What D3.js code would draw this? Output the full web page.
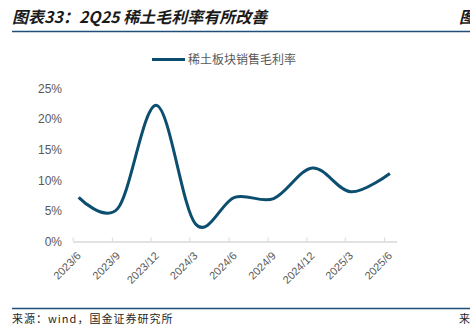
<!DOCTYPE html>
<html>
<head>
<meta charset="utf-8">
<script src="https://cdn.jsdelivr.net/npm/d3@7"></script>
<style>
  html, body { margin: 0; padding: 0; background: #fff; }
  svg { display: block; }
</style>
</head>
<body>
<div id="chart"></div>
<script>
// ---- data ----
const categories = ["2023/6", "2023/9", "2023/12", "2024/3", "2024/6", "2024/9", "2024/12", "2025/3", "2025/6"];
const values = [7.2, 5.4, 22.2, 2.9, 7.2, 7.0, 12.0, 8.1, 11.1]; // %
const yTicks = [0, 5, 10, 15, 20, 25];
const seriesName = "稀土板块销售毛利率";
const title = "图表33：2Q25 稀土毛利率有所改善";
const source = "来源：wind，国金证券研究所";

// ---- layout ----
const W = 470, H = 329;
const svg = d3.select("#chart").append("svg").attr("width", W).attr("height", H);

const parse = s => { const [y, m] = s.split("/").map(Number); return new Date(y, m - 1, 1); };
const tickDates = categories.map(parse);
const pointDates = categories.map(s => { const [y, m] = s.split("/").map(Number); return new Date(y, m - 1, 15); });
const last = tickDates[tickDates.length - 1];
const x = d3.scaleTime()
  .domain([tickDates[0], new Date(last.getFullYear(), last.getMonth() + 1, 1)])
  .range([72.7, 396.7]);
const y = d3.scaleLinear().domain([0, 25]).range([241.5, 88.2]);

// title
svg.append("text").attr("x", 12).attr("y", 23)
  .attr("font-family", "'Noto Sans CJK SC', sans-serif")
  .attr("font-size", 16).attr("font-style", "italic").attr("font-weight", 700)
  .attr("fill", "#1a1a1a").text(title);
svg.append("text").attr("x", 459).attr("y", 23)
  .attr("font-family", "'Noto Sans CJK SC', sans-serif")
  .attr("font-size", 16).attr("font-style", "italic").attr("font-weight", 700)
  .attr("fill", "#1a1a1a").text("图");
svg.append("line").attr("x1", 12).attr("x2", W).attr("y1", 31.5).attr("y2", 31.5)
  .attr("stroke", "#1f4e79").attr("stroke-width", 1.5);

// legend
svg.append("line").attr("x1", 152).attr("x2", 185).attr("y1", 59.5).attr("y2", 59.5)
  .attr("stroke", "#0c4e70").attr("stroke-width", 3);
svg.append("text").attr("x", 188).attr("y", 64)
  .attr("font-family", "'Noto Sans CJK SC', sans-serif").attr("font-size", 12)
  .attr("fill", "#595959").text(seriesName);

// y axis labels
svg.append("g").selectAll("text").data(yTicks).join("text")
  .attr("x", 62).attr("y", d => y(d)).attr("dy", "0.36em")
  .attr("text-anchor", "end")
  .attr("font-family", "'Liberation Sans', Arial, sans-serif").attr("font-size", 12)
  .attr("fill", "#595959").text(d => d + "%");

// x axis
const xAxis = d3.axisBottom(x).tickValues(tickDates).tickSizeInner(-4).tickSizeOuter(0).tickFormat(() => "");
const gx = svg.append("g").attr("transform", `translate(0,${y(0)})`).call(xAxis);
gx.select(".domain").attr("stroke", "#d9d9d9").attr("stroke-width", 1.3);
gx.selectAll(".tick line").attr("stroke", "#d9d9d9").attr("stroke-width", 1);

svg.append("g").selectAll("text").data(categories).join("text")
  .attr("transform", (d, i) => `translate(${x(tickDates[i]) + 9},${y(0) + 15}) rotate(-45)`)
  .attr("text-anchor", "end")
  .attr("font-family", "'Liberation Sans', Arial, sans-serif").attr("font-size", 11)
  .attr("fill", "#595959").text(d => d);

// line
const line = d3.line()
  .x((d, i) => x(pointDates[i]))
  .y(d => y(d))
  .curve(d3.curveCardinal.tension(0));
svg.append("path").datum(values)
  .attr("d", line).attr("fill", "none")
  .attr("stroke", "#0c4e70").attr("stroke-width", 3);

// source
svg.append("line").attr("x1", 12).attr("x2", W).attr("y1", 308.5).attr("y2", 308.5)
  .attr("stroke", "#1f4e79").attr("stroke-width", 1.5);
svg.append("text").attr("x", 12).attr("y", 323)
  .attr("font-family", "'Noto Sans CJK SC', sans-serif").attr("font-size", 11)
  .attr("letter-spacing", 1)
  .attr("fill", "#262626").text(source);
svg.append("text").attr("x", 459).attr("y", 323)
  .attr("font-family", "'Noto Sans CJK SC', sans-serif").attr("font-size", 11)
  .attr("fill", "#262626").text("来");
</script>
</body>
</html>
